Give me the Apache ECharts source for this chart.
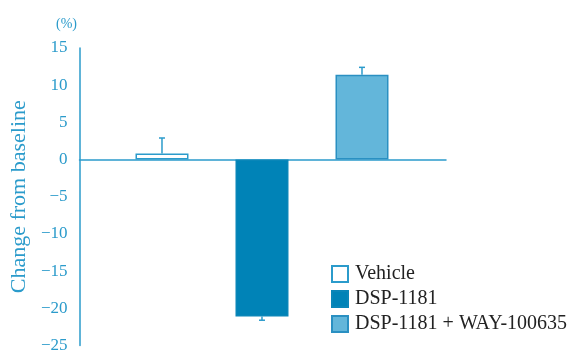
<!DOCTYPE html>
<html>
<head>
<meta charset="utf-8">
<script src="https://cdn.jsdelivr.net/npm/echarts@6/dist/echarts.min.js"></script>
<style>
  html, body { margin: 0; padding: 0; background: #fff; }
  #chart { width: 578px; height: 354px; }
</style>
</head>
<body>
<div id="chart"></div>
<script>
// Treatment groups, mean change from baseline (%) and the end of each error bar
const groups = ['Vehicle', 'DSP-1181', 'DSP-1181 + WAY-100635'];
const changes = [0.8, -21.1, 11.4];
const errorEnds = [2.9, -21.6, 12.4];
const yTicks = [15, 10, 5, 0, -5, -10, -15, -20, -25];

const AXIS_BLUE = '#2b9bcb';
const fills = ['#ffffff', '#0083b7', '#63b6da'];
const borders = ['#2b9bcb', '#0a86b8', '#2a90c2'];
const serif = '"Liberation Serif", "DejaVu Serif", serif';

const barSeries = groups.map((name, i) => ({
  name: name,
  type: 'bar',
  stack: 'groups',
  barWidth: 53,
  itemStyle: { color: fills[i], borderColor: borders[i], borderWidth: 1.5 },
  data: [[i + 1, changes[i]]]
}));

const errorSeries = {
  type: 'custom',
  silent: true,
  z: 5,
  data: groups.map((g, i) => [i + 1, changes[i], errorEnds[i]]),
  renderItem: function (params, api) {
    const x = api.value(0);
    const p0 = api.coord([x, api.value(1)]);
    const p1 = api.coord([x, api.value(2)]);
    const style = { stroke: AXIS_BLUE, lineWidth: 1.5 };
    return {
      type: 'group',
      children: [
        { type: 'line', shape: { x1: p0[0], y1: p0[1], x2: p1[0], y2: p1[1] }, style: style },
        { type: 'line', shape: { x1: p1[0] - 3, y1: p1[1], x2: p1[0] + 3, y2: p1[1] }, style: style }
      ]
    };
  }
};

const chart = echarts.init(document.getElementById('chart'));
chart.setOption({
  animation: false,
  backgroundColor: '#ffffff',
  title: {
    text: '(%)',
    left: 51,
    top: 12,
    textStyle: { fontFamily: serif, fontSize: 14, fontWeight: 'normal', color: AXIS_BLUE }
  },
  legend: {
    orient: 'vertical',
    left: 326,
    top: 259,
    itemWidth: 16,
    itemHeight: 16,
    itemGap: 5,
    icon: 'rect',
    data: groups,
    textStyle: { fontFamily: serif, fontSize: 20, color: '#222222', padding: [0, 0, 0, 2] }
  },
  grid: { left: 76, right: 132, top: 48, bottom: 7 },
  xAxis: {
    type: 'value',
    min: 0.175,
    max: 3.84,
    axisLine: { show: true, onZero: true, lineStyle: { color: AXIS_BLUE, width: 1.5 } },
    axisTick: { show: false },
    axisLabel: { show: false },
    splitLine: { show: false }
  },
  yAxis: {
    type: 'value',
    min: yTicks[yTicks.length - 1],
    max: yTicks[0],
    interval: 5,
    name: 'Change from baseline',
    nameLocation: 'middle',
    nameGap: 46,
    nameTextStyle: { fontFamily: serif, fontSize: 22, color: AXIS_BLUE },
    axisLine: { show: true, onZero: false, lineStyle: { color: AXIS_BLUE, width: 1.5 } },
    axisTick: { show: false },
    splitLine: { show: false },
    axisLabel: {
      margin: 12,
      fontFamily: serif,
      fontSize: 17,
      color: AXIS_BLUE,
      formatter: v => String(v).replace('-', '\u2212')
    }
  },
  series: barSeries.concat([errorSeries])
});
</script>
</body>
</html>
